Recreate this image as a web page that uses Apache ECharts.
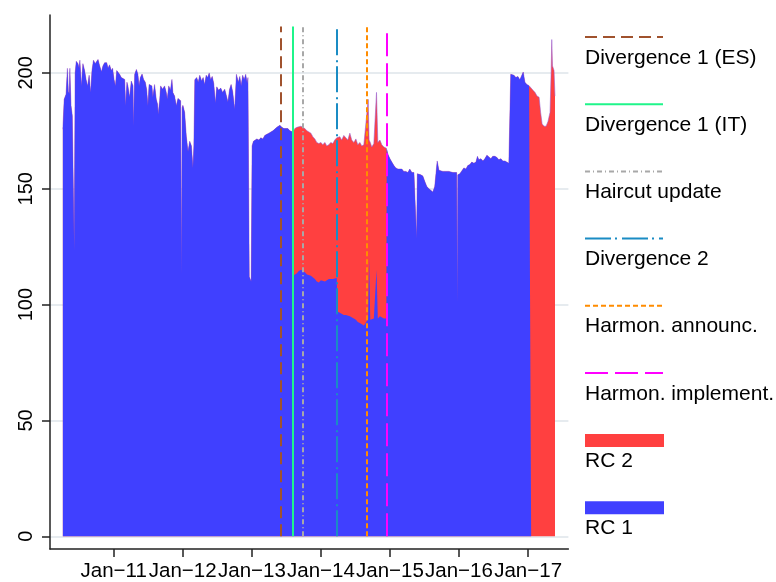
<!DOCTYPE html>
<html>
<head>
<meta charset="utf-8">
<script src="https://cdn.jsdelivr.net/npm/echarts@6/dist/echarts.min.js"></script>
<style>
html, body { margin: 0; padding: 0; background: #fff; }
#chart { width: 776px; height: 582px; }
</style>
</head>
<body>
<div id="chart"></div>
<script>
// Collateral series sampled over time: RC 1 at the bottom, RC 2 stacked on top
const dates = [
  '2010-04-07','2010-04-14','2010-04-24','2010-05-01','2010-05-06','2010-05-11','2010-05-14','2010-05-20','2010-05-27','2010-05-31',
  '2010-06-06','2010-06-11','2010-06-17','2010-06-26','2010-07-02','2010-07-06','2010-07-14','2010-07-22','2010-07-31','2010-08-08',
  '2010-08-16','2010-08-24','2010-09-01','2010-09-08','2010-09-16','2010-09-25','2010-10-03','2010-10-10','2010-10-19','2010-10-28',
  '2010-11-05','2010-11-14','2010-11-25','2010-12-02','2010-12-10','2010-12-19','2010-12-26','2011-01-03','2011-01-10','2011-01-17',
  '2011-01-24','2011-02-01','2011-02-10','2011-02-20','2011-02-28','2011-03-05','2011-03-12','2011-03-17','2011-03-26','2011-04-04',
  '2011-04-13','2011-04-16','2011-04-22','2011-05-01','2011-05-09','2011-05-15','2011-05-22','2011-05-31','2011-06-08','2011-06-17',
  '2011-06-24','2011-07-01','2011-07-07','2011-07-15','2011-07-22','2011-07-27','2011-08-05','2011-08-14','2011-08-21','2011-08-24',
  '2011-09-01','2011-09-06','2011-09-17','2011-09-27','2011-10-06','2011-10-11','2011-10-19','2011-10-28','2011-11-05','2011-11-10',
  '2011-11-19','2011-11-28','2011-12-07','2011-12-16','2011-12-21','2011-12-25','2011-12-29','2012-01-02','2012-01-11','2012-01-20',
  '2012-01-29','2012-02-07','2012-02-16','2012-02-24','2012-02-29','2012-03-05','2012-03-15','2012-03-23','2012-03-31','2012-04-10',
  '2012-04-18','2012-04-26','2012-05-04','2012-05-12','2012-05-20','2012-05-28','2012-06-05','2012-06-13','2012-06-22','2012-06-29',
  '2012-07-09','2012-07-20','2012-07-30','2012-08-10','2012-08-18','2012-08-27','2012-09-05','2012-09-13','2012-09-21','2012-10-02',
  '2012-10-11','2012-10-21','2012-10-29','2012-11-05','2012-11-13','2012-11-21','2012-11-29','2012-12-07','2012-12-11','2012-12-18',
  '2012-12-28','2013-01-02','2013-01-09','2013-01-17','2013-01-27','2013-02-07','2013-02-17','2013-02-28','2013-03-10','2013-03-21',
  '2013-04-01','2013-04-11','2013-04-22','2013-05-02','2013-05-13','2013-05-21','2013-05-29','2013-06-08','2013-06-19','2013-06-29',
  '2013-07-10','2013-07-21','2013-07-31','2013-08-06','2013-08-08','2013-08-16','2013-08-27','2013-09-06','2013-09-17','2013-09-27',
  '2013-10-08','2013-10-19','2013-10-29','2013-11-09','2013-11-19','2013-11-30','2013-12-10','2013-12-21','2014-01-01','2014-01-11',
  '2014-01-22','2014-02-01','2014-02-12','2014-02-22','2014-03-05','2014-03-15','2014-03-26','2014-03-29','2014-04-11','2014-04-21',
  '2014-05-02','2014-05-13','2014-05-23','2014-06-03','2014-06-13','2014-06-24','2014-07-05','2014-07-15','2014-07-26','2014-08-05',
  '2014-08-16','2014-08-26','2014-09-08','2014-09-13','2014-09-19','2014-09-27','2014-10-08','2014-10-22','2014-10-29','2014-11-09',
  '2014-11-19','2014-11-30','2014-12-13','2014-12-15','2014-12-21','2015-01-01','2015-01-11','2015-01-22','2015-02-01','2015-02-12',
  '2015-02-22','2015-03-05','2015-03-15','2015-03-26','2015-04-06','2015-04-16','2015-04-27','2015-05-08','2015-05-18','2015-05-22',
  '2015-05-26','2015-06-03','2015-06-13','2015-06-24','2015-07-05','2015-07-15','2015-07-26','2015-08-05','2015-08-16','2015-08-26',
  '2015-09-08','2015-09-17','2015-09-27','2015-10-08','2015-10-19','2015-10-29','2015-11-09','2015-11-19','2015-11-30','2015-12-10',
  '2015-12-20','2015-12-23','2015-12-26','2016-01-06','2016-01-16','2016-01-27','2016-02-07','2016-02-17','2016-02-28','2016-03-09',
  '2016-03-20','2016-03-31','2016-04-08','2016-04-15','2016-04-26','2016-05-07','2016-05-17','2016-05-28','2016-06-07','2016-06-18',
  '2016-06-28','2016-07-09','2016-07-20','2016-07-30','2016-08-10','2016-08-20','2016-08-31','2016-09-10','2016-09-21','2016-09-27',
  '2016-10-01','2016-10-07','2016-10-18','2016-10-28','2016-11-08','2016-11-18','2016-11-26','2016-12-06','2016-12-15','2016-12-25',
  '2017-01-06','2017-01-15','2017-01-17','2017-01-27','2017-02-07','2017-02-17','2017-02-28','2017-03-08','2017-03-16','2017-03-26',
  '2017-04-06','2017-04-16','2017-04-27','2017-05-03','2017-05-06','2017-05-10','2017-05-18','2017-05-23'
];

const rc1 = [
  175.7,188.6,190.8,202,192,191,202,186,181.5,181,
  123,200,205,204,202,205.5,194.4,204,201,197,
  194.4,199,191.5,201,205.5,204,203.5,205.8,203,200.5,
  203,204.4,204.4,202,203.5,201,202,197,194.4,201,
  201.5,199.4,198,197.5,197.2,185.8,196,194.4,189.5,196.5,
  194.4,177,199.4,201.5,199.4,194.4,198,199.5,197.2,196,
  193,185.8,195,195.8,194.4,189.5,195,188.6,186.5,182,
  188,194.4,193,194.4,191.5,188.6,194.4,192.5,197.2,191.5,
  190,185.8,189,188.6,188,112.6,185,186,183,172.7,
  166,170.5,168.5,159,168.5,197,198,196,199,196.5,
  198,195,199,198,200,197,198.5,195.5,187,194,
  192.5,193.5,191.5,193,190.5,187.5,193,195,192,184.3,
  199.4,196,198.5,194.4,199,197,199.4,195.5,198,112,
  110,168.5,170.5,170.5,171.5,171,172,171.5,173,173.5,
  174,173.5,175,175.5,176.5,176,177.4,176.5,176,175.5,
  176,175,174.5,174.5,112.6,113,113.5,114.5,115,114.5,
  114,113,112.5,112.5,112,111,110,109.5,110.5,110.5,
  110,110.5,111,111.5,111,111.5,111.5,97,96.5,96,
  95.5,95.5,95.5,95,94.5,94,93.5,92.5,92,91.5,
  91,92,94,120,93.5,93,94,115,94,95,
  94.5,94,94,167.5,165,163,161.5,160,159,158.5,
  158,158.5,157.5,157.5,157,158.5,157,157,156.5,128.5,
  156.5,157,156,155.5,153,151,150,150.5,148.6,151,
  162,158,157.5,157.5,157.5,157,157.5,157.5,157,157.3,
  157,100,156,156.5,157,159,158.5,160,160.5,161.5,
  161,161.5,164,162.5,163,162,163,164.5,164,163,
  164,164,163.5,162.5,163,162,162,161.5,161,161,
  199.4,199.5,199,198,198.5,197,198.5,200.4,196,195,
  194.5,194,0,0,0,0,0,0,0,0,
  0,0,0,0,0,0,0,0
];

const rc2 = [
  0,0,0,0,0,0,0,0,0,0,
  0,0,0,0,0,0,0,0,0,0,
  0,0,0,0,0,0,0,0,0,0,
  0,0,0,0,0,0,0,0,0,0,
  0,0,0,0,0,0,0,0,0,0,
  0,0,0,0,0,0,0,0,0,0,
  0,0,0,0,0,0,0,0,0,0,
  0,0,0,0,0,0,0,0,0,0,
  0,0,0,0,0,0,0,0,0,0,
  0,0,0,0,0,0,0,0,0,0,
  0,0,0,0,0,0,0,0,0,0,
  0,0,0,0,0,0,0,0,0,0,
  0,0,0,0,0,0,0,0,0,0,
  0,0,0,0,0,0,0,0,0,0,
  0,0,0,0,0,0,0,0,0,0,
  0,0,0,0,62.4,63,63,62.5,62,62,
  62,62,62,61.5,60.5,60.5,60,60,59.5,58.5,
  60,58,58,58.5,58.5,59.5,60.5,75,76,75,
  77.5,76.5,75.5,79,76.5,76,78,76.5,78,77,
  78,76.5,94.6,51,76.5,75,75.5,76.6,76,76,
  74.5,74,73.5,0,0,0,0,0,0,0,
  0,0,0,0,0,0,0,0,0,0,
  0,0,0,0,0,0,0,0,0,0,
  0,0,0,0,0,0,0,0,0,0,
  0,0,0,0,0,0,0,0,0,0,
  0,0,0,0,0,0,0,0,0,0,
  0,0,0,0,0,0,0,0,0,0,
  0,0,0,0,0,0,0,0,0,0,
  0,0,194,192.5,191.5,190,189.5,183,178,177,
  177,179,183,201.5,214.4,203,201,190
];

// Axis ticks
const tickYears = [2011, 2012, 2013, 2014, 2015, 2016, 2017];
const yTicks = [0, 50, 100, 150, 200];

// Policy events marked as vertical lines
const eventNames = ['Divergence 1 (ES)', 'Divergence 1 (IT)', 'Haircut update', 'Divergence 2', 'Harmon. announc.', 'Harmon. implement.'];
const eventDates = ['2013-06-02', '2013-08-07', '2013-09-29', '2014-03-28', '2014-08-30', '2014-12-14'];
const eventStyles = [
  { color: '#a0522d', dash: [12, 6] },
  { color: '#1ff58a', dash: 'solid' },
  { color: '#a8a8a8', dash: [5, 3, 1, 3] },
  { color: '#1a8cc4', dash: [26, 4, 2, 5] },
  { color: '#ff8c00', dash: [5, 3] },
  { color: '#ff00ff', dash: [23, 7] }
];
const areaNames = ['RC 2', 'RC 1'];
const areaColors = { 'RC 1': '#4040ff', 'RC 2': '#ff4040' };

const ts = d => Date.parse(d + 'T00:00:00Z');
const xs = dates.map(ts);
// RC 2 sits on top of RC 1, so its upper edge is the running total
const total = rc1.map((v, i) => v + rc2[i]);
const FONT = '"Liberation Sans", Arial, Helvetica, sans-serif';

const eventLines = eventDates.map((d, i) => [
  { coord: [ts(d), 0], lineStyle: { color: eventStyles[i].color, width: 2, type: eventStyles[i].dash } },
  { coord: [ts(d), 220] }
]);

// Legend drawn as key-above-label entries down the right side
const legendGraphics = [];
const legendX = 585, legendW = 79, rowH = 67.2;
eventNames.forEach((name, i) => {
  const yLine = 37 + i * rowH;
  legendGraphics.push({
    type: 'line', silent: true,
    shape: { x1: legendX, y1: yLine, x2: legendX + legendW - 1, y2: yLine },
    style: { stroke: eventStyles[i].color, lineWidth: 2, lineDash: eventStyles[i].dash === 'solid' ? null : eventStyles[i].dash }
  });
  legendGraphics.push({
    type: 'text', silent: true, x: legendX, y: yLine + 20.8,
    style: { text: name, fill: '#000', fontSize: 21, fontFamily: FONT, verticalAlign: 'middle', align: 'left' }
  });
});
areaNames.forEach((name, j) => {
  const top = 434 + j * rowH;
  legendGraphics.push({
    type: 'rect', silent: true,
    shape: { x: legendX, y: top, width: legendW, height: 13 },
    style: { fill: areaColors[name] }
  });
  legendGraphics.push({
    type: 'text', silent: true, x: legendX, y: top + 27,
    style: { text: name, fill: '#000', fontSize: 21, fontFamily: FONT, verticalAlign: 'middle', align: 'left' }
  });
});

const chart = echarts.init(document.getElementById('chart'), null, { renderer: 'canvas' });
chart.setOption({
  animation: false,
  backgroundColor: '#fff',
  grid: { left: 50, right: 207.6, top: 15, bottom: 30, containLabel: false },
  xAxis: {
    type: 'value',
    min: ts('2010-01-29'),
    max: ts('2017-08-02'),
    axisLine: { show: true, onZero: false, lineStyle: { color: '#222', width: 1.5 } },
    axisTick: { show: true, length: 8, customValues: tickYears.map(y => Date.UTC(y, 0, 1)), lineStyle: { color: '#222', width: 1.5 } },
    axisLabel: {
      customValues: tickYears.map(y => Date.UTC(y, 0, 1)),
      formatter: v => 'Jan\u2212' + String(new Date(v).getUTCFullYear()).slice(2),
      color: '#000', fontSize: 20.5, fontFamily: FONT, margin: 12
    },
    splitLine: { show: false }
  },
  yAxis: {
    type: 'value',
    min: -5.5,
    max: 225,
    axisLine: { show: true, lineStyle: { color: '#222', width: 1.5 } },
    axisTick: { show: true, length: 8, customValues: yTicks, lineStyle: { color: '#222', width: 1.5 } },
    axisLabel: { customValues: yTicks, rotate: 90, color: '#000', fontSize: 20, fontFamily: FONT, margin: 14 },
    splitLine: { show: true, lineStyle: { color: '#e6ebef', width: 2 } }
  },
  series: [
    {
      name: 'RC 2', type: 'line', symbol: 'none', z: 2,
      data: xs.map((t, i) => [t, total[i]]),
      lineStyle: { width: 1, color: 'rgba(150, 90, 210, 0.55)' }, color: areaColors['RC 2'],
      areaStyle: { color: areaColors['RC 2'], opacity: 1 }
    },
    {
      name: 'RC 1', type: 'line', symbol: 'none', z: 3,
      data: xs.map((t, i) => [t, rc1[i]]),
      lineStyle: { width: 0 }, color: areaColors['RC 1'],
      areaStyle: { color: areaColors['RC 1'], opacity: 1 }
    },
    {
      name: 'events', type: 'line', data: [], z: 5, silent: true,
      markLine: { silent: true, symbol: ['none', 'none'], label: { show: false }, data: eventLines, animation: false }
    }
  ],
  graphic: legendGraphics
});
</script>
</body>
</html>
